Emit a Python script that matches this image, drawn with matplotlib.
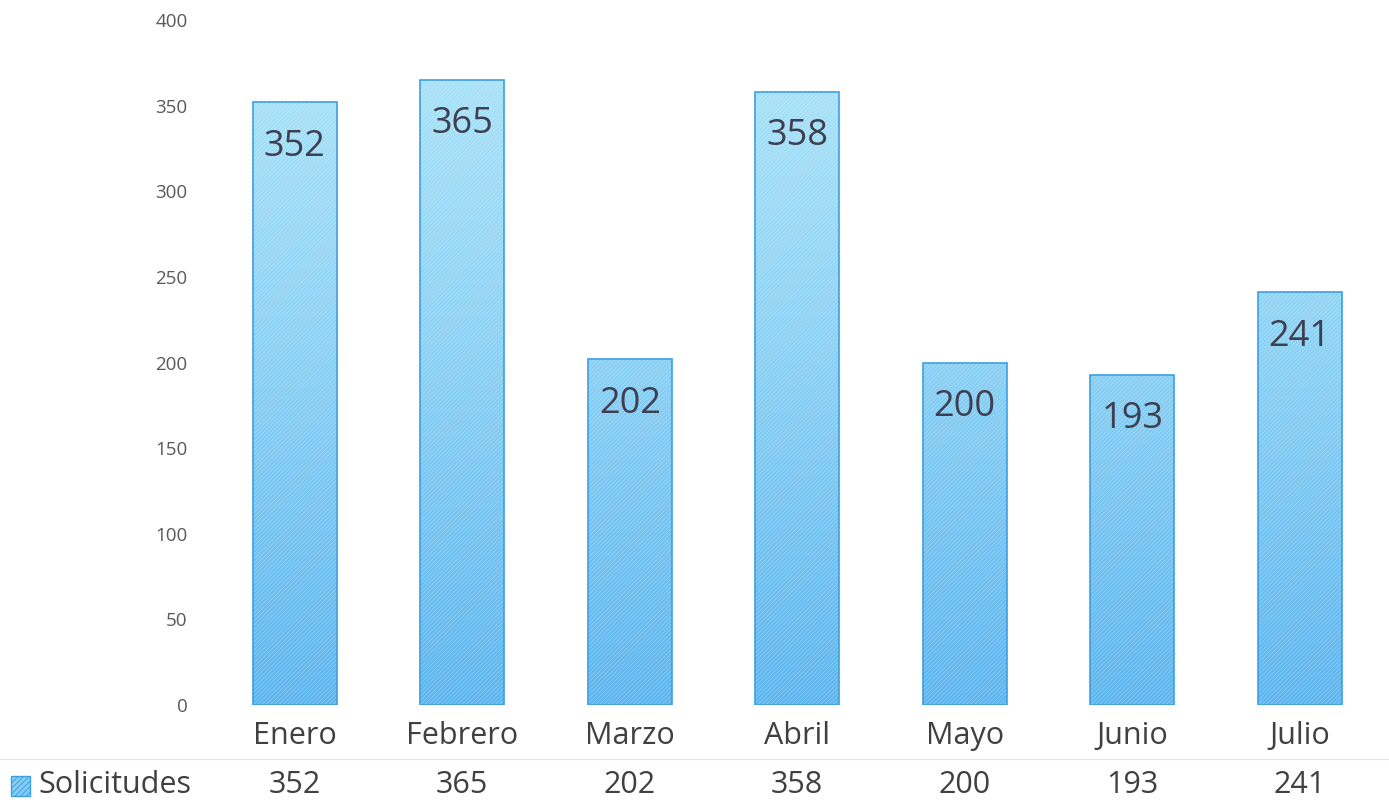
import numpy as np
import matplotlib
matplotlib.use("Agg")
import matplotlib.pyplot as plt
from matplotlib.colors import LinearSegmentedColormap
from matplotlib.patches import Rectangle
from matplotlib.transforms import blended_transform_factory

months = ["Enero", "Febrero", "Marzo", "Abril", "Mayo", "Junio", "Julio"]
solicitudes = [352, 365, 202, 358, 200, 193, 241]
series_name = "Solicitudes"
yticks = [0, 50, 100, 150, 200, 250, 300, 350, 400]

plt.rcParams["font.family"] = ["Open Sans", "DejaVu Sans"]
plt.rcParams["hatch.linewidth"] = 0.7

TEXT = "#404040"
VALUE = "#3f3f52"
EDGE = "#3d9fe3"
grad = LinearSegmentedColormap.from_list("bar", ["#58b3ee", "#86cff4", "#ace5f9"])

fig = plt.figure(figsize=(13.89, 8.10), dpi=100)
ax = fig.add_axes([0.152, 0.1296, 0.844, 0.8457])

x = np.arange(len(months))
width = 0.5
ax.set_xlim(-0.5, len(months) - 0.5)
ax.set_ylim(0, 400)

gradient = np.linspace(0, 1, 256).reshape(-1, 1)
for xi, v in zip(x, solicitudes):
    clip = Rectangle((xi - width / 2, 0), width, v, transform=ax.transData,
                     facecolor="none", edgecolor="none")
    ax.add_patch(clip)
    im = ax.imshow(gradient, cmap=grad, aspect="auto", origin="lower",
                   extent=(xi - width / 2, xi + width / 2, 0, 400), zorder=1)
    im.set_clip_path(clip)

# hatching + border
ax.bar(x, solicitudes, width=width, color="none", hatch="////////",
       edgecolor=(1, 1, 1, 0.3), linewidth=0, zorder=2)
ax.bar(x, solicitudes, width=width, color="none", edgecolor=EDGE,
       linewidth=1.2, zorder=3)

for xi, v in zip(x, solicitudes):
    ax.annotate(str(v), (xi, v), xytext=(0, -32), textcoords="offset points",
                ha="center", va="center", fontsize=26, color=VALUE, zorder=4)

ax.set_yticks(yticks)
ax.tick_params(axis="y", length=0, pad=17, labelsize=13.5, labelcolor="#595959")
ax.set_xticks([])
for s in ax.spines.values():
    s.set_visible(False)

# data table below the chart
tr = blended_transform_factory(ax.transData, fig.transFigure)
for xi, m, v in zip(x, months, solicitudes):
    ax.text(xi, 1 - 736 / 810, m, transform=tr, ha="center", va="center",
            fontsize=22, color=TEXT)
    ax.text(xi, 1 - 785 / 810, str(v), transform=tr, ha="center", va="center",
            fontsize=22, color=TEXT)

fig.add_artist(plt.Line2D([0.0, 1.0], [1 - 759 / 810] * 2,
                          transform=fig.transFigure, color="#e6e6e6", lw=0.8))

sw = Rectangle((11 / 1389, 1 - 796 / 810), 19 / 1389, 20 / 810,
               transform=fig.transFigure, facecolor="#86cff4", edgecolor=EDGE,
               hatch="//////", linewidth=1.0)
fig.add_artist(sw)
fig.text(38 / 1389, 1 - 785 / 810, series_name, ha="left", va="center",
         fontsize=22, color=TEXT)

fig.savefig("out.png", dpi=100)
